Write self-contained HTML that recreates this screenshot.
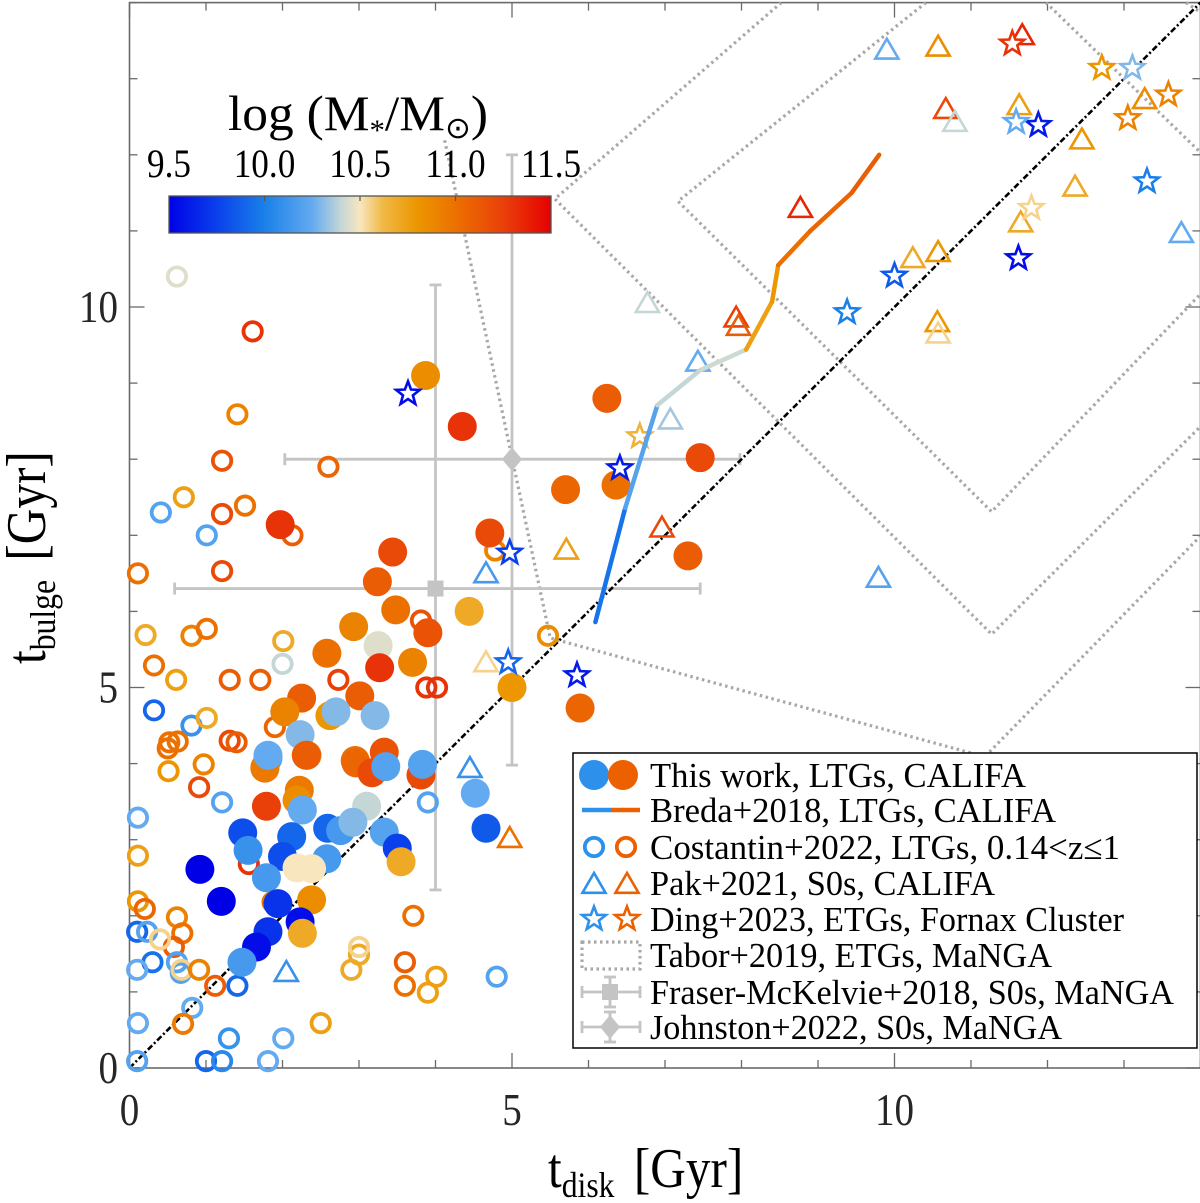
<!DOCTYPE html>
<html><head><meta charset="utf-8"><style>
html,body{margin:0;padding:0;background:#fff;}
svg{display:block;font-family:"Liberation Serif",serif;}
</style></head><body>
<svg id="chart" width="1200" height="1203" viewBox="0 0 1200 1203" xmlns="http://www.w3.org/2000/svg">
<g id="grid-layer"></g>
</svg>
<script>
// ---- data (Gyr, log mass) ----
const ltgX=[3.87,4.35,6.24,5.7,6.36,7.46,4.71,7.3,1.97,3.44,3.24,3.48,3.9,2.93,3.25,4.44,3.27,3.7,2.58,3.01,2.25,2.03,2.62,2.7,3.21,2.23,2.32,1.81,2.95,1.77,3.81,5.0,5.89,
 1.77,1.81,2.31,2.96,3.33,3.17,3.35,3.83,2.22,4.52,1.79,2.19,2.26,3.10,1.48,2.12,2.59,2.76,2.92,3.33,3.50,1.55,0.92,2.00,2.58,2.19,2.38,1.79,3.55,1.20,1.94,2.38,2.23,1.81,2.26,1.66,1.47,4.66];
const ltgY=[9.1,8.43,8.8,7.6,7.66,8.02,7.03,6.73,7.14,6.78,6.39,6.02,5.72,5.8,5.55,6.0,5.26,5.33,5.45,4.89,4.86,4.68,4.63,4.68,4.63,4.38,4.11,4.07,4.04,3.94,3.85,5.0,4.73,
 3.95,4.11,4.11,4.01,4.15,3.88,3.96,3.99,3.65,3.61,3.44,3.52,3.39,3.44,3.09,3.04,3.15,3.12,3.23,3.10,2.89,2.86,2.61,2.78,2.75,2.63,2.62,2.50,2.71,2.19,2.16,2.21,1.92,1.79,1.77,1.59,1.39,3.15];
const ltgM=[10.85,11.3,11.1,11.05,11.0,11.2,11.2,11.1,11.3,11.2,11.1,11.0,11.15,10.9,10.45,10.7,11.3,10.9,11.0,11.1,11.1,10.9,10.8,10.3,10.3,10.3,11.0,10.2,11.0,11.0,11.2,10.8,11.05,
 10.95,10.25,11.1,11.05,11.15,11.2,10.2,10.2,10.95,10.25,11.25,10.85,10.25,10.4,9.8,9.9,9.9,10.15,10.3,10.2,9.75,10.1,9.5,9.8,10.15,10.5,10.5,10.15,10.7,9.5,9.7,10.85,9.55,9.7,10.7,9.55,10.15,9.85];

const cosX=[0.62,1.61,1.41,1.21,0.71,0.41,1.01,1.21,1.51,2.6,2.13,0.11,1.21,0.21,0.32,0.81,1.01,0.61,1.31,1.71,2.01,2.0,0.32,0.81,1.01,1.9,0.5,0.63,1.31,0.51,0.97,0.91,1.21,0.11,0.11,0.11,0.2,0.62,0.1,0.23,0.69,0.58,0.4,0.3,0.62,0.67,0.1,0.68,0.91,1.12,1.41,0.82,0.7,0.11,1.3,2.01,1.81,0.1,1.0,1.21,2.5,2.9,3.0,3.0,3.6,3.6,4.01,3.9,3.71,4.8,3.9,3.81,2.73,3.88,4.02,5.47,4.78,1.56,1.87,0.52,1.4];
const cosY=[10.4,9.68,8.59,7.98,7.5,7.3,7.0,7.28,7.39,7.9,7.0,6.5,6.53,5.69,5.29,5.68,5.77,5.1,5.1,5.1,5.61,5.31,4.7,4.5,4.6,4.48,4.2,4.29,4.3,3.9,3.99,3.69,3.49,3.29,2.79,2.19,2.09,1.98,1.79,1.79,1.77,1.59,1.69,1.39,1.39,1.25,1.29,1.29,1.29,1.08,1.08,0.79,0.58,0.59,0.39,0.39,0.09,0.09,0.09,0.09,0.59,1.29,1.49,1.59,1.39,1.08,1.2,0.99,2.0,1.2,3.49,5.88,5.1,5.0,5.0,5.68,6.8,2.68,2.18,4.28,4.28];
const cosM=[10.45,11.3,10.9,11.15,10.75,10.2,10.2,11.2,11.0,11.05,11.1,11.0,11.2,10.7,11.0,10.9,11.0,10.75,11.1,11.1,10.7,10.4,9.9,10.1,10.7,11.05,11.0,11.0,11.2,10.8,10.9,11.2,10.2,10.25,10.75,10.8,11.05,10.9,9.9,10.2,11.0,11.1,10.55,9.95,10.2,10.2,10.25,10.55,10.9,11.1,9.9,10.25,10.95,10.25,10.1,10.25,10.25,10.2,9.9,10.05,10.75,10.7,10.7,10.55,11.1,11.0,10.75,10.75,11.0,10.2,10.2,11.15,11.25,11.3,11.3,10.85,10.9,11.3,10.95,11.0,11.1];

const pakX=[9.9,10.57,11.67,10.67,10.79,11.63,12.45,12.36,13.27,13.75,8.77,7.93,7.96,7.43,7.07,6.77,6.96,5.71,4.66,4.45,4.97,4.66,9.79,10.57,10.24,10.56,10.57,11.65,2.05];
const pakY=[13.38,13.42,13.57,12.6,12.43,12.65,12.2,11.58,12.73,10.97,11.3,9.86,9.75,9.28,8.52,10.05,7.1,6.81,6.5,3.94,3.02,5.33,6.44,10.72,10.64,9.8,9.65,11.11,1.26];
const pakM=[10.25,10.85,11.35,11.2,10.4,10.75,10.8,10.7,10.85,10.25,11.35,11.25,11.1,10.25,10.35,10.4,11.2,10.75,10.15,10.1,11.0,10.55,10.2,10.8,10.7,10.8,10.55,10.7,10.1];

const dingX=[3.64,6.41,4.97,4.95,5.85,9.38,10.0,11.62,11.88,11.59,13.3,13.11,12.71,13.05,13.58,11.54,6.67,11.79];
const dingY=[8.86,7.88,6.77,5.33,5.16,9.93,10.41,10.64,12.39,12.43,11.65,13.14,13.14,12.48,12.79,13.46,8.3,11.3];
const dingM=[9.55,9.6,9.75,9.9,9.6,10.0,9.85,9.55,9.6,10.25,10.0,10.3,10.8,10.9,10.9,11.3,10.65,10.55];

const bredaX=[6.09,6.48,6.9,7.46,8.06,8.4,8.48,8.9,9.44,9.8];
const bredaY=[5.86,7.36,8.71,9.17,9.44,10.07,10.55,11.0,11.5,12.0];
const bredaM=[9.95,10.2,10.4,10.42,10.75,10.8,11.0,11.05,11.1,11.1];

const taborPolyX=[[4.12,5.5,11.18,13.99],[8.52,5.56,11.27,13.99],[10.41,7.17,11.27,13.99],[11.98,13.99],[13.81,13.99]];
const taborPolyY=[[12.19,5.65,4.09,6.98],[14.0,11.42,5.70,8.42],[14.0,11.39,7.31,10.16],[14.0,12.04],[14.0,13.88]];

const errX=[4.0,5.0];
const errY=[6.3,8.0];
const errXlo=[0.59,2.03], errXhi=[7.46,7.98];
const errYlo=[2.34,3.98], errYhi=[10.29,12.0];

const tickVals=[0,1,2,3,4,5,6,7,8,9,10,11,12,13,14];
const tickLabels=["0","5","10"];
const cbTicks=["9.5","10.0","10.5","11.0","11.5"];

// ---- helpers ----
const NS="http://www.w3.org/2000/svg";
const svg=document.getElementById('chart');
const X0=129.5,Y0=1068,SX=76.5,SY=76.1;
function X(v){return X0+v*SX;}
function Y(v){return Y0-v*SY;}
function mk(tag,attrs,parent){const e=document.createElementNS(NS,tag);for(const k in attrs)e.setAttribute(k,attrs[k]);(parent||svg).appendChild(e);return e;}
const stops=[[9.5,[0,0,230]],[9.75,[10,64,236]],[10.0,[26,128,232]],[10.25,[100,170,240]],[10.4,[196,214,214]],[10.5,[248,230,190]],[10.62,[240,185,70]],[10.8,[236,150,0]],[11.0,[236,112,0]],[11.25,[233,64,10]],[11.5,[230,0,0]]];
function cmap(m){m=Math.max(9.5,Math.min(11.5,m));for(let i=0;i<stops.length-1;i++){const a=stops[i],b=stops[i+1];if(m<=b[0]){const t=(m-a[0])/(b[0]-a[0]);const c=a[1].map((v,j)=>Math.round(v+(b[1][j]-v)*t));return 'rgb('+c.join(',')+')';}}return 'rgb(230,0,0)';}
function starPts(cx,cy,R,r){let p=[];for(let i=0;i<10;i++){const a=-Math.PI/2+i*Math.PI/5;const rr=i%2?r:R;p.push((cx+rr*Math.cos(a)).toFixed(1)+','+(cy+rr*Math.sin(a)).toFixed(1));}return p.join(' ');}
function triPts(cx,cy,s){return [cx+','+(cy-s),(cx-s*1.05)+','+(cy+s*0.8),(cx+s*1.05)+','+(cy+s*0.8)].join(' ');}

// ---- axes box & ticks ----
const axes=mk('g',{});


const box=mk('rect',{x:X(0),y:Y(14),width:X(14)-X(0),height:Y(0)-Y(14),fill:'none',stroke:'#6a6a6a','stroke-width':1.6},axes);


tickVals.forEach(v=>{
  const L=(v%5===0)?15:8;
  mk('line',{x1:X(v),x2:X(v),y1:Y(0),y2:Y(0)-L,stroke:'#6a6a6a','stroke-width':1.3},axes);
  mk('line',{x1:X(v),x2:X(v),y1:Y(14),y2:Y(14)+L,stroke:'#6a6a6a','stroke-width':1.3},axes);
  mk('line',{y1:Y(v),y2:Y(v),x1:X(0),x2:X(0)+L,stroke:'#6a6a6a','stroke-width':1.3},axes);
  mk('line',{y1:Y(v),y2:Y(v),x1:X(14),x2:X(14)-L,stroke:'#6a6a6a','stroke-width':1.3},axes);
});
tickLabels.forEach((s,i)=>{
  const v=i*5;
  const tx=mk('text',{x:0,y:0,'font-size':46,'text-anchor':'middle',fill:'#262626',transform:`translate(${X(v)},1125) scale(0.85,1)`},axes);
  tx.textContent=s;
  
  
  const ty=mk('text',{x:0,y:0,'font-size':46,'text-anchor':'end',fill:'#262626',transform:`translate(118,${Y(v)+15}) scale(0.85,1)`},axes);
  ty.textContent=s;
  
  
});

// ---- Tabor dotted regions ----
const tab=mk('g',{fill:'none',stroke:'#a8a8a8','stroke-width':3.2,'stroke-dasharray':'2.5 3.5'});


taborPolyX.forEach((xs,i)=>{
  const pts=xs.map((x,j)=>X(x)+','+Y(taborPolyY[i][j])).join(' ');
  const pl=mk('polyline',{points:pts},tab);
  
  
});

// ---- error bars ----
const eb=mk('g',{stroke:'#c4c4c4','stroke-width':2.8,fill:'#c4c4c4'});


errX.forEach((x,i)=>{
  const cx=X(x),cy=Y(errY[i]);
  mk('line',{x1:X(errXlo[i]),x2:X(errXhi[i]),y1:cy,y2:cy},eb);
  mk('line',{x1:cx,x2:cx,y1:Y(errYlo[i]),y2:Y(errYhi[i])},eb);
  mk('line',{x1:X(errXlo[i]),x2:X(errXlo[i]),y1:cy-6,y2:cy+6},eb);
  mk('line',{x1:X(errXhi[i]),x2:X(errXhi[i]),y1:cy-6,y2:cy+6},eb);
  mk('line',{x1:cx-6,x2:cx+6,y1:Y(errYlo[i]),y2:Y(errYlo[i])},eb);
  mk('line',{x1:cx-6,x2:cx+6,y1:Y(errYhi[i]),y2:Y(errYhi[i])},eb);
  if(i===0){const r=mk('rect',{x:cx-8,y:cy-8,width:16,height:16,stroke:'none'},eb);
    
    }
  else {const d=mk('polygon',{points:`${cx},${cy-12} ${cx+10},${cy} ${cx},${cy+12} ${cx-10},${cy}`,stroke:'none'},eb);
    
    }
});

// ---- one-to-one line ----
const diag=mk('line',{x1:X(0),y1:Y(0),x2:X(14),y2:Y(14),stroke:'#000','stroke-width':2.6,'stroke-dasharray':'6 2.5 2 2.5'});



// ---- Costantin open circles ----
const gc=mk('g',{});


cosX.forEach((x,i)=>{
  const c=mk('circle',{cx:X(x),cy:Y(cosY[i]),r:9.2,fill:'none',stroke:cmap(cosM[i]),'stroke-width':3.8},gc);
  
  
});

// ---- This work filled circles ----
const gl=mk('g',{});


ltgX.forEach((x,i)=>{
  const c=mk('circle',{cx:X(x),cy:Y(ltgY[i]),r:14.5,fill:cmap(ltgM[i])},gl);
  
  
});

// ---- Pak triangles ----
const gp=mk('g',{});


pakX.forEach((x,i)=>{
  const t=mk('polygon',{points:triPts(X(x),Y(pakY[i]),11),fill:'none',stroke:cmap(pakM[i]),'stroke-width':2.6},gp);
  
  
});

// ---- Ding stars ----
const gd=mk('g',{});


dingX.forEach((x,i)=>{
  const s=mk('polygon',{points:starPts(X(x),Y(dingY[i]),12.5,5.2),fill:'#fff',stroke:cmap(dingM[i]),'stroke-width':2.6,'stroke-linejoin':'miter'},gd);
  
  
});

// ---- Breda line ----
const gb=mk('g',{});


for(let i=0;i<bredaX.length-1;i++){
  const l=mk('line',{x1:X(bredaX[i]),y1:Y(bredaY[i]),x2:X(bredaX[i+1]),y2:Y(bredaY[i+1]),stroke:cmap(bredaM[i]),'stroke-width':4.5,'stroke-linecap':'round'},gb);
  
  
}

// ---- colorbar ----
const cb=mk('g',{});


const defs=mk('defs',{});
const lg=mk('linearGradient',{id:'cbg',x1:0,x2:1,y1:0,y2:0},defs);
stops.forEach(s=>mk('stop',{offset:((s[0]-9.5)/2).toFixed(3),'stop-color':'rgb('+s[1].join(',')+')'},lg));
const cbr=mk('rect',{x:169,y:196,width:382,height:37,fill:'url(#cbg)',stroke:'#555','stroke-width':1.3},cb);


cbTicks.forEach((s,i)=>{
  const x=169+i*382/4;
  if(i>0&&i<4) mk('line',{x1:x,x2:x,y1:196,y2:201,stroke:'#555','stroke-width':1.2},cb);
  const t=mk('text',{x:0,y:0,'font-size':40,'text-anchor':'middle',fill:'#000',transform:`translate(${x},177) scale(0.88,1)`},cb);
  t.textContent=s;
  
  
});
const cbt=mk('text',{x:228,y:130,'font-size':50,fill:'#000',textLength:260,lengthAdjust:'spacingAndGlyphs'},cb);
cbt.innerHTML='log (M<tspan font-size="30" dy="10">*</tspan><tspan dy="-10">/M</tspan><tspan font-size="30" dy="8">⊙</tspan><tspan dy="-8">)</tspan>';



// ---- axis titles ----
const xt=mk('text',{x:0,y:0,'font-size':56,fill:'#000',transform:'translate(548,1187) scale(0.88,1)'});
xt.innerHTML='t<tspan font-size="36" dy="10">disk</tspan><tspan dy="-10" dx="22">[Gyr]</tspan>';


const yt=mk('text',{x:0,y:0,'font-size':56,fill:'#000',transform:'translate(45,664) rotate(-90) scale(0.88,1)'});
yt.innerHTML='t<tspan font-size="36" dy="10">bulge</tspan><tspan dy="-10" dx="22">[Gyr]</tspan>';



// ---- legend ----
const lgd=mk('g',{});


const lbox=mk('rect',{x:573,y:753,width:624,height:295,fill:'#fff',stroke:'#000','stroke-width':1.5},lgd);


const legTexts=["This work, LTGs, CALIFA","Breda+2018, LTGs, CALIFA","Costantin+2022, LTGs, 0.14<z≤1","Pak+2021, S0s, CALIFA","Ding+2023, ETGs, Fornax Cluster","Tabor+2019, ETGs, MaNGA","Fraser-McKelvie+2018, S0s, MaNGA","Johnston+2022, S0s, MaNGA"];
const legW=[376,406,470,345,474,402,524,412];
const legYc=[775,810,847,883,919,955,992,1027];
const blue='rgb(45,145,235)',orange='rgb(236,96,0)';
legTexts.forEach((s,i)=>{
  const t=mk('text',{x:650,y:legYc[i]+12,'font-size':35,fill:'#000',textLength:legW[i],lengthAdjust:'spacingAndGlyphs'},lgd);
  t.textContent=s;
  
  
  const y=legYc[i];
  if(i===0){mk('circle',{cx:594,cy:y,r:15,fill:blue},lgd);mk('circle',{cx:623,cy:y,r:15,fill:orange},lgd);}
  if(i===1){mk('line',{x1:582,x2:611,y1:y,y2:y,stroke:blue,'stroke-width':4.5},lgd);mk('line',{x1:611,x2:640,y1:y,y2:y,stroke:orange,'stroke-width':4.5},lgd);}
  if(i===2){mk('circle',{cx:594,cy:y,r:9.2,fill:'none',stroke:blue,'stroke-width':3.8},lgd);mk('circle',{cx:626,cy:y,r:9.2,fill:'none',stroke:orange,'stroke-width':3.8},lgd);}
  if(i===3){mk('polygon',{points:triPts(594,y+1,11),fill:'none',stroke:blue,'stroke-width':2.6},lgd);mk('polygon',{points:triPts(627,y+1,11),fill:'none',stroke:orange,'stroke-width':2.6},lgd);}
  if(i===4){mk('polygon',{points:starPts(594,y,12.5,5.2),fill:'#fff',stroke:blue,'stroke-width':2.6},lgd);mk('polygon',{points:starPts(627,y,12.5,5.2),fill:'#fff',stroke:orange,'stroke-width':2.6},lgd);}
  if(i===5){mk('rect',{x:582,y:y-13,width:58,height:27,fill:'none',stroke:'#a8a8a8','stroke-width':3.2,'stroke-dasharray':'2.5 3.5'},lgd);}
  if(i===6||i===7){const g='#c4c4c4';
    mk('line',{x1:582,x2:640,y1:y,y2:y,stroke:g,'stroke-width':2.8},lgd);
    mk('line',{x1:582,x2:582,y1:y-6,y2:y+6,stroke:g,'stroke-width':2.8},lgd);
    mk('line',{x1:640,x2:640,y1:y-6,y2:y+6,stroke:g,'stroke-width':2.8},lgd);
    mk('line',{x1:610,x2:610,y1:y-15,y2:y+15,stroke:g,'stroke-width':2.8},lgd);
    mk('line',{x1:604,x2:616,y1:y-15,y2:y-15,stroke:g,'stroke-width':2.8},lgd);
    mk('line',{x1:604,x2:616,y1:y+15,y2:y+15,stroke:g,'stroke-width':2.8},lgd);
    if(i===6) mk('rect',{x:602,y:y-8,width:16,height:16,fill:g},lgd);
    else mk('polygon',{points:`610,${y-12} 620,${y} 610,${y+12} 600,${y}`,fill:g},lgd);}
});
</script>
</body></html>
